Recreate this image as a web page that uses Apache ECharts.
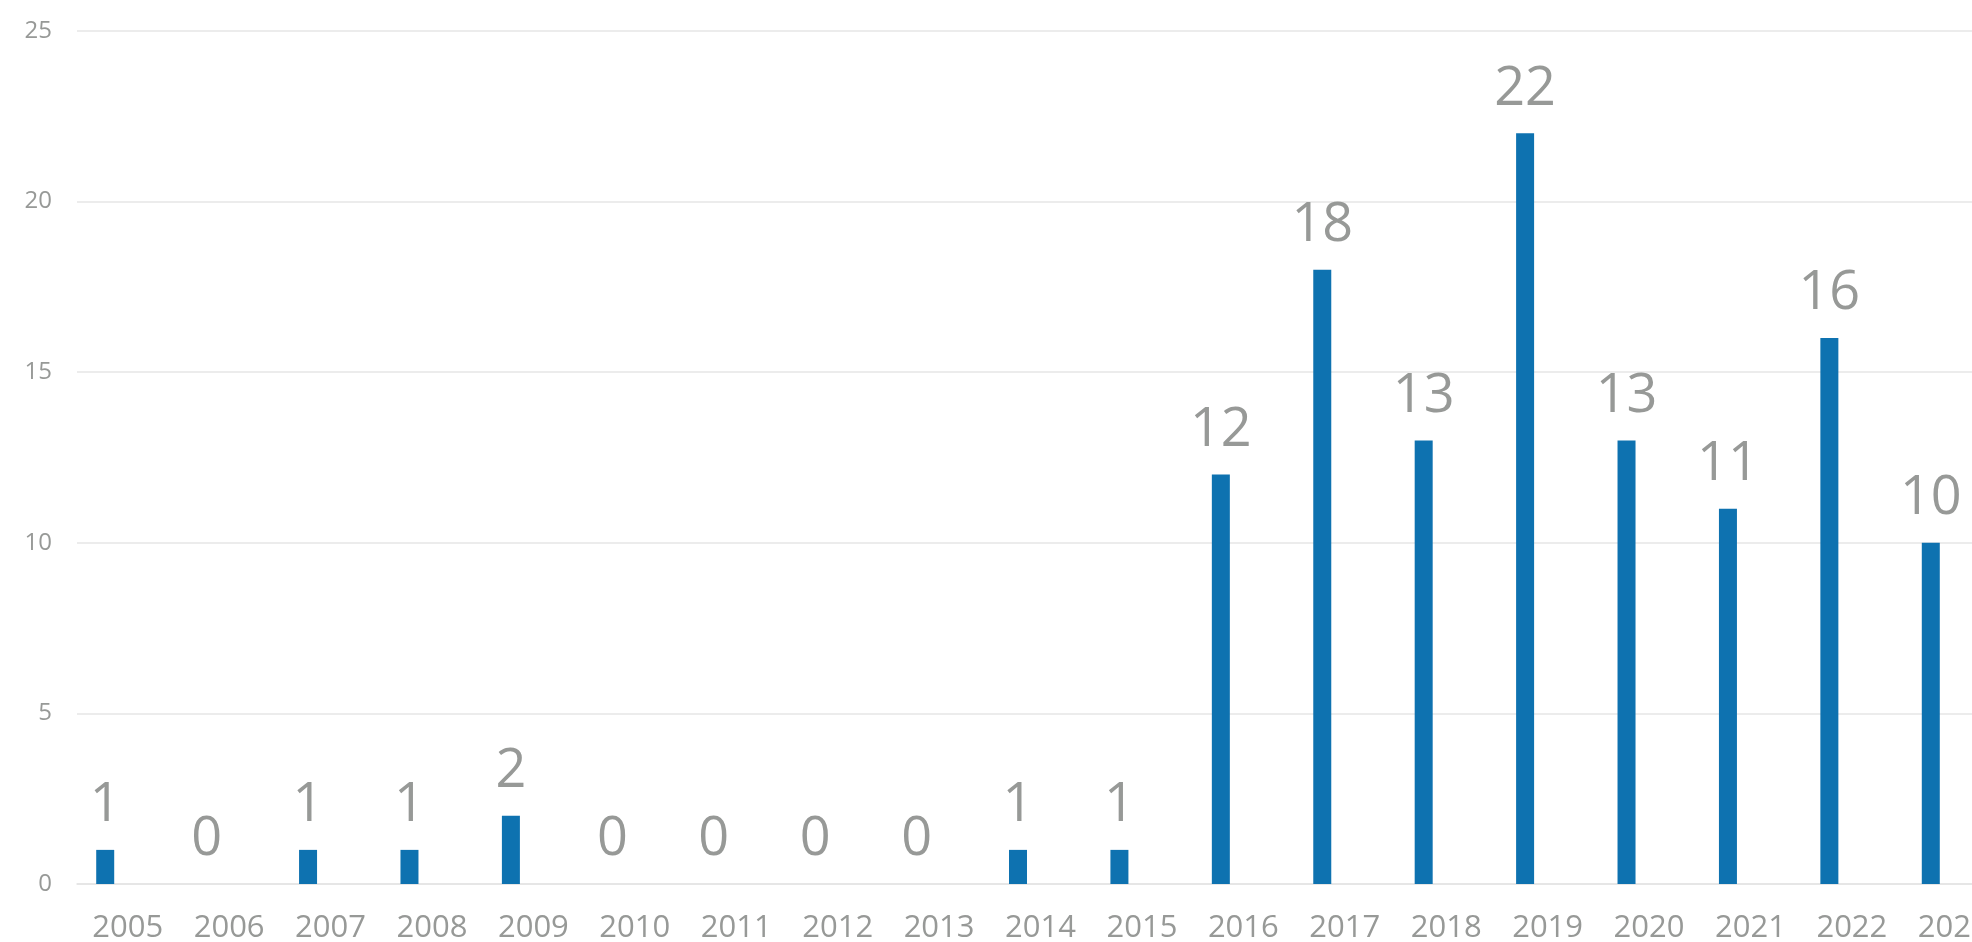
<!DOCTYPE html>
<html>
<head>
<meta charset="utf-8">
<script src="https://cdn.jsdelivr.net/npm/echarts@6/dist/echarts.min.js"></script>
<style>
  html, body { margin: 0; padding: 0; background: #fff; }
  #chart { width: 1972px; height: 942px; }
</style>
</head>
<body>
<div id="chart"></div>
<script>
const years = ['2005', '2006', '2007', '2008', '2009', '2010', '2011', '2012', '2013', '2014',
    '2015', '2016', '2017', '2018', '2019', '2020', '2021', '2022', '2023'];
const counts = [1, 0, 1, 1, 2, 0, 0, 0, 0, 1, 1, 12, 18, 13, 22, 13, 11, 16, 10];
// second series of the original chart is empty, it only shifts the bars left
const emptySeries = [];
const yTicks = [0, 5, 10, 15, 20, 25];

const textGrey = '#979997';
const font = '"Open Sans", "Noto Sans", sans-serif';

const myChart = echarts.init(document.getElementById('chart'));

const option = {
    animation: false,
    grid: {
        left: 77,
        width: 1927,
        top: 31,
        bottom: 58,
        containLabel: false,
        outerBoundsMode: 'none'
    },
    xAxis: {
        type: 'category',
        data: years,
        axisLine: { lineStyle: { color: '#e3e3e3', width: 1.5 } },
        axisTick: { show: false },
        axisLabel: {
            color: textGrey,
            fontFamily: font,
            fontSize: 31,
            margin: 29
        }
    },
    yAxis: {
        type: 'value',
        min: yTicks[0],
        max: yTicks[yTicks.length - 1],
        interval: 5,
        axisLine: { show: false },
        axisTick: { show: false },
        axisLabel: {
            color: textGrey,
            fontFamily: font,
            fontSize: 24,
            margin: 25
        },
        splitLine: { lineStyle: { color: '#e6e6e6', width: 1.5 } }
    },
    series: [{
        name: 'Count',
        type: 'bar',
        data: counts,
        barWidth: 18,
        barGap: '150%',
        itemStyle: { color: '#0e72b0' },
        label: {
            show: true,
            position: 'top',
            distance: 17,
            color: textGrey,
            fontFamily: font,
            fontSize: 54
        }
    }, {
        name: 'Other',
        type: 'bar',
        data: emptySeries,
        barWidth: 18
    }]
};

option && myChart.setOption(option);
</script>
</body>
</html>
